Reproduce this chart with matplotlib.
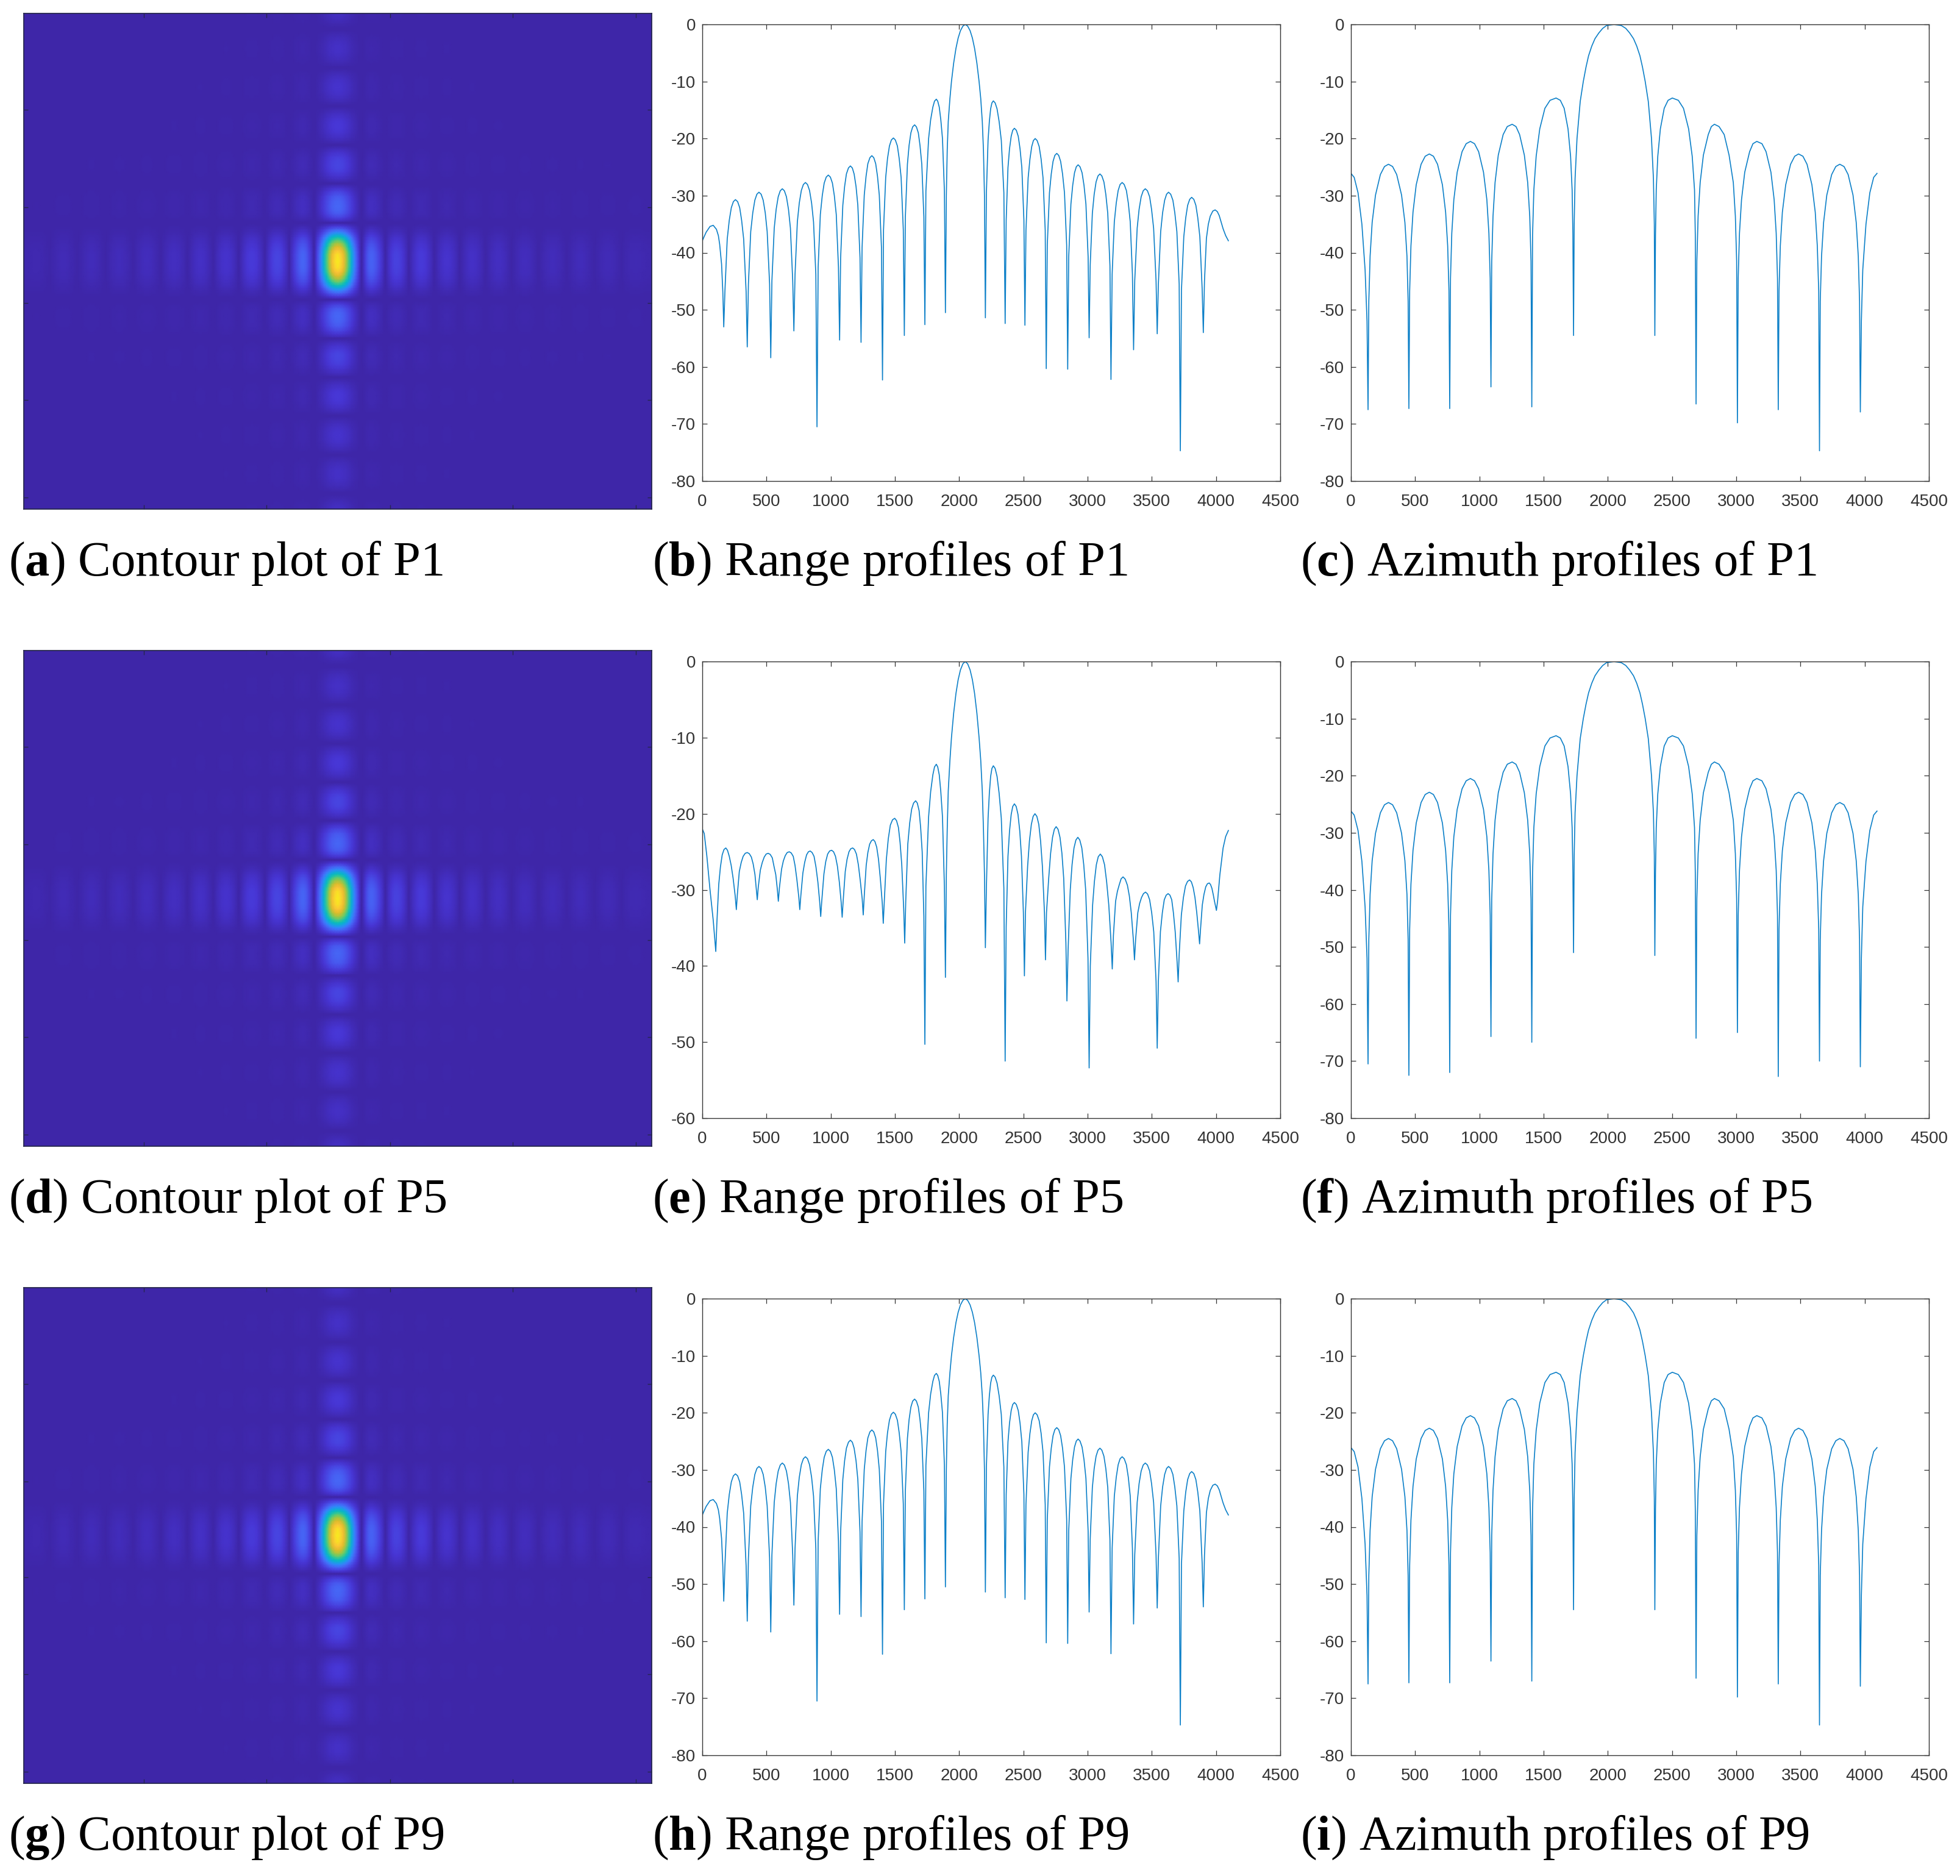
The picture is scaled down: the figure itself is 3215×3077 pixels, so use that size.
"""Point target responses for P1, P5 and P9: contour plot, range and azimuth profiles."""

from __future__ import annotations

import matplotlib.pyplot as plt
import numpy as np
from matplotlib.colors import LinearSegmentedColormap

FIG_W = 3215
FIG_H = 3077

# values, one line per lobe
range_p1_x = [
    0, 30, 60, 85, 110, 125, 135, 150, 160, 167,
    176, 194, 210, 226, 242, 258, 275, 291, 306, 322, 341, 350,
    359, 377, 393, 409, 425, 441, 458, 474, 490, 505, 524, 533,
    542, 560, 575, 591, 607, 623, 639, 655, 671, 686, 704, 713,
    722, 740, 755, 771, 787, 803, 819, 835, 851, 866, 884, 893,
    902, 919, 934, 949, 965, 981, 997, 1013, 1028, 1043, 1060, 1069,
    1077, 1094, 1108, 1122, 1138, 1153, 1168, 1182, 1197, 1211, 1228, 1236,
    1244, 1261, 1275, 1289, 1305, 1320, 1335, 1350, 1364, 1378, 1395, 1403,
    1411, 1428, 1442, 1457, 1472, 1488, 1503, 1519, 1533, 1548, 1565, 1573,
    1581, 1597, 1610, 1624, 1638, 1653, 1667, 1682, 1695, 1709, 1725, 1733,
    1741, 1762, 1778, 1795, 1808, 1822, 1833, 1845, 1857, 1870, 1885, 1893,
    1900, 1907, 1915, 1928, 1940, 1957, 1975, 1992, 2010, 2029, 2047,
    2066, 2085, 2103, 2120, 2138, 2155, 2168, 2180, 2189, 2197, 2204,
    2212, 2225, 2235, 2245, 2255, 2266, 2280, 2295, 2311, 2328, 2348, 2358,
    2366, 2380, 2392, 2405, 2417, 2430, 2445, 2460, 2474, 2488, 2504, 2512,
    2520, 2537, 2551, 2565, 2578, 2592, 2607, 2623, 2638, 2653, 2670, 2678,
    2686, 2703, 2717, 2731, 2745, 2760, 2775, 2790, 2805, 2820, 2837, 2845,
    2853, 2870, 2884, 2898, 2912, 2926, 2941, 2957, 2972, 2987, 3004, 3012,
    3020, 3037, 3051, 3066, 3081, 3096, 3111, 3127, 3142, 3157, 3174, 3182,
    3191, 3208, 3223, 3238, 3253, 3269, 3285, 3302, 3317, 3332, 3349, 3358,
    3367, 3386, 3401, 3417, 3433, 3449, 3466, 3483, 3498, 3514, 3533, 3542,
    3551, 3569, 3584, 3600, 3615, 3630, 3647, 3664, 3679, 3695, 3713, 3722,
    3731, 3749, 3764, 3779, 3795, 3810, 3827, 3843, 3858, 3874, 3892, 3901,
    3910, 3925, 3940, 3955, 3975, 3993, 4010, 4025, 4055, 4075, 4096,
]
range_p1_db = [
    -37.9, -36.4, -35.4, -35.2, -35.9, -37, -38.5, -42, -47, -53,
    -46.8, -37.6, -34.3, -32.1, -31.05, -30.7, -31.05, -32.1, -34.3, -37.6, -46.8, -56.5,
    -45.5, -36.3, -33, -30.8, -29.75, -29.4, -29.75, -30.8, -33, -36.3, -45.5, -58.4,
    -44.9, -35.7, -32.4, -30.2, -29.15, -28.8, -29.15, -30.2, -32.4, -35.7, -44.9, -53.7,
    -43.8, -34.6, -31.3, -29.1, -28.05, -27.7, -28.05, -29.1, -31.3, -34.6, -43.8, -70.5,
    -42.5, -33.3, -30, -27.8, -26.75, -26.4, -26.75, -27.8, -30, -33.3, -42.5, -55.3,
    -40.9, -31.7, -28.4, -26.2, -25.15, -24.8, -25.15, -26.2, -28.4, -31.7, -40.9, -55.7,
    -39.1, -29.9, -26.6, -24.4, -23.35, -23, -23.35, -24.4, -26.6, -29.9, -39.1, -62.3,
    -36, -26.8, -23.5, -21.3, -20.25, -19.9, -20.25, -21.3, -23.5, -26.8, -36, -54.5,
    -33.7, -24.5, -21.2, -19, -17.95, -17.6, -17.95, -19, -21.2, -24.5, -33.7, -52.6,
    -29.2, -20, -16.7, -14.5, -13.45, -13.1, -13.45, -14.5, -16.7, -20, -29.2, -50.5,
    -30, -22, -17, -13, -10, -6.8, -4.2, -2.4, -1.1, -0.3, 0,
    -0.3, -1.1, -2.4, -4.2, -6.8, -10, -13, -17, -22, -30, -51.4,
    -29.5, -20.3, -17, -14.8, -13.75, -13.4, -13.75, -14.8, -17, -20.3, -29.5, -52.4,
    -34.3, -25.1, -21.8, -19.6, -18.55, -18.2, -18.55, -19.6, -21.8, -25.1, -34.3, -52.7,
    -36.1, -26.9, -23.6, -21.4, -20.35, -20, -20.35, -21.4, -23.6, -26.9, -36.1, -60.3,
    -38.7, -29.5, -26.2, -24, -22.95, -22.6, -22.95, -24, -26.2, -29.5, -38.7, -60.4,
    -40.7, -31.5, -28.2, -26, -24.95, -24.6, -24.95, -26, -28.2, -31.5, -40.7, -54.9,
    -42.3, -33.1, -29.8, -27.6, -26.55, -26.2, -26.55, -27.6, -29.8, -33.1, -42.3, -62.2,
    -43.8, -34.6, -31.3, -29.1, -28.05, -27.7, -28.05, -29.1, -31.3, -34.6, -43.8, -57,
    -44.9, -35.7, -32.4, -30.2, -29.15, -28.8, -29.15, -30.2, -32.4, -35.7, -44.9, -54.2,
    -45.5, -36.3, -33, -30.8, -29.75, -29.4, -29.75, -30.8, -33, -36.3, -45.5, -74.7,
    -46.4, -37.2, -33.9, -31.7, -30.65, -30.3, -30.65, -31.7, -33.9, -37.2, -46.4, -54,
    -45, -37.5, -35, -33.6, -32.7, -32.5, -32.8, -33.5, -35.8, -37, -37.9,
]

range_p5_x = [
    0, 15, 35, 60, 85, 97, 105,
    113, 128, 141, 155, 169, 183, 196, 210, 225, 240, 256, 265,
    273, 288, 303, 318, 334, 350, 366, 382, 396, 410, 420, 428,
    436, 452, 467, 482, 497, 513, 529, 545, 558, 572, 584, 592,
    600, 617, 631, 646, 661, 677, 692, 708, 722, 736, 751, 759,
    767, 783, 797, 812, 826, 840, 855, 870, 885, 900, 914, 922,
    930, 947, 961, 976, 991, 1007, 1022, 1037, 1052, 1067, 1081, 1089,
    1097, 1113, 1127, 1142, 1156, 1171, 1185, 1200, 1215, 1230, 1245, 1253,
    1261, 1276, 1289, 1303, 1317, 1331, 1344, 1358, 1372, 1386, 1401, 1409,
    1417, 1433, 1448, 1464, 1481, 1498, 1512, 1527, 1540, 1553, 1568, 1576,
    1584, 1600, 1615, 1630, 1645, 1661, 1674, 1688, 1700, 1712, 1725, 1733,
    1741, 1762, 1778, 1795, 1808, 1822, 1833, 1845, 1857, 1870, 1885, 1893,
    1900, 1907, 1915, 1928, 1940, 1957, 1975, 1992, 2010, 2029, 2047,
    2066, 2085, 2103, 2120, 2138, 2155, 2168, 2180, 2189, 2197, 2204,
    2212, 2225, 2235, 2245, 2255, 2266, 2280, 2295, 2311, 2328, 2348, 2358,
    2366, 2380, 2392, 2405, 2417, 2430, 2444, 2458, 2472, 2485, 2500, 2508,
    2516, 2533, 2547, 2562, 2576, 2590, 2605, 2620, 2634, 2648, 2664, 2672,
    2680, 2697, 2712, 2727, 2741, 2755, 2770, 2785, 2800, 2814, 2831, 2839,
    2848, 2865, 2879, 2894, 2909, 2924, 2939, 2955, 2970, 2985, 3003, 3012,
    3021, 3039, 3053, 3068, 3083, 3099, 3115, 3132, 3148, 3165, 3183, 3192,
    3201, 3218, 3232, 3247, 3261, 3276, 3293, 3310, 3325, 3340, 3356, 3365,
    3374, 3391, 3405, 3420, 3435, 3451, 3467, 3483, 3499, 3515, 3533, 3542,
    3551, 3567, 3582, 3597, 3612, 3627, 3641, 3655, 3668, 3682, 3697, 3705,
    3713, 3730, 3746, 3762, 3778, 3794, 3808, 3822, 3836, 3850, 3864, 3872,
    3880, 3893, 3906, 3920, 3933, 3947, 3957, 3968, 3978, 3988, 3997, 4003,
    4012, 4030, 4055, 4075, 4096,
]
range_p5_db = [
    -22, -22.6, -25.5, -30, -34, -36.5, -38.1,
    -34.5, -29.3, -27, -25.4, -24.7, -24.5, -24.8, -25.6, -26.8, -28.5, -30.8, -32.6,
    -30.6, -27.6, -26.4, -25.6, -25.2, -25.1, -25.25, -25.7, -26.6, -28, -29.8, -31.3,
    -29.6, -27.4, -26.4, -25.7, -25.3, -25.2, -25.35, -25.8, -26.9, -28, -29.9, -31.5,
    -29.8, -27.3, -26.2, -25.5, -25.1, -25, -25.15, -25.6, -26.8, -28.6, -30.9, -32.6,
    -30.8, -27.8, -26.4, -25.4, -25, -24.9, -25.1, -25.6, -27, -29, -31.6, -33.5,
    -31.5, -27.9, -26.3, -25.3, -24.9, -24.8, -25, -25.6, -26.9, -29, -31.6, -33.6,
    -31.4, -27.6, -26, -25, -24.6, -24.5, -24.7, -25.3, -26.7, -28.8, -31.2, -33.3,
    -30.8, -26.8, -25.1, -24, -23.55, -23.4, -23.65, -24.4, -26, -28.5, -31.7, -34.4,
    -31.5, -26, -23.3, -21.5, -20.8, -20.6, -20.9, -21.8, -23.8, -26.7, -32.5, -37,
    -31.5, -24, -21.2, -19.4, -18.6, -18.3, -18.6, -19.6, -21.8, -25, -33.5, -50.3,
    -29.5, -20.4, -17.1, -14.9, -13.85, -13.5, -13.85, -14.9, -17.1, -20.4, -29.6, -41.5,
    -28, -22, -17, -13, -10, -6.8, -4.2, -2.4, -1.1, -0.3, 0,
    -0.3, -1.1, -2.4, -4.2, -6.8, -10, -13, -17, -22, -28, -37.6,
    -29.7, -20.6, -17.3, -15.1, -14.05, -13.7, -14.05, -15.1, -17.3, -20.6, -29.8, -52.5,
    -34.8, -25.6, -22.3, -20.1, -19.05, -18.7, -19.05, -20.1, -22.3, -25.6, -33, -41.3,
    -33, -26.9, -23.6, -21.4, -20.35, -20, -20.35, -21.4, -23.6, -26.9, -33, -39.2,
    -33, -28.5, -25.2, -23.1, -22.05, -21.7, -22.05, -23.1, -25.2, -28.5, -37, -44.6,
    -38, -30, -26.7, -24.5, -23.45, -23.1, -23.45, -24.5, -26.7, -30, -39, -53.4,
    -40, -32, -28.9, -26.7, -25.65, -25.3, -25.65, -26.7, -28.9, -32, -37, -40.4,
    -36, -31.5, -30.2, -29.3, -28.55, -28.3, -28.6, -29.4, -30.8, -33, -36.5, -39.2,
    -36.5, -33, -31.8, -31, -30.5, -30.3, -30.55, -31.3, -33, -35.5, -42, -50.8,
    -42, -35.5, -33, -31.3, -30.7, -30.5, -30.7, -31.3, -33, -35.5, -39.5, -42.1,
    -38.5, -33.3, -31, -29.5, -28.9, -28.7, -28.95, -29.7, -31, -33, -35.5, -37.1,
    -35, -32, -30.6, -29.6, -29.2, -29.1, -29.3, -29.8, -30.6, -31.5, -32.2, -32.7,
    -31.5, -28, -24.5, -23, -22.2,
]

azimuth_x = [
    0, 25, 55, 85, 110, 125, 133,
    139, 149, 165, 191, 229, 261, 292, 324, 356, 394, 420, 436, 445, 451,
    457, 467, 483, 508, 546, 578, 610, 642, 674, 712, 737, 753, 763, 769,
    775, 785, 801, 827, 865, 897, 930, 962, 994, 1032, 1058, 1074, 1084, 1090,
    1096, 1106, 1122, 1147, 1185, 1217, 1255, 1285, 1313, 1350, 1376, 1392, 1402, 1408,
    1414, 1424, 1442, 1470, 1510, 1550, 1597, 1630, 1660, 1690, 1710, 1722, 1728, 1733,
    1738, 1745, 1760, 1785, 1809, 1830, 1850, 1875, 1900, 1930, 1960, 1990, 2048,
    2105, 2140, 2170, 2200, 2225, 2250, 2270, 2291, 2315, 2340, 2355, 2362, 2366,
    2371, 2377, 2389, 2409, 2439, 2469, 2502, 2549, 2589, 2629, 2657, 2675, 2681, 2687,
    2693, 2703, 2719, 2744, 2782, 2806, 2830, 2866, 2906, 2944, 2977, 2993, 3003, 3009,
    3015, 3025, 3041, 3066, 3104, 3130, 3160, 3200, 3232, 3270, 3295, 3311, 3321, 3327,
    3333, 3343, 3359, 3385, 3423, 3455, 3485, 3519, 3551, 3589, 3615, 3631, 3642, 3648,
    3654, 3664, 3680, 3705, 3743, 3775, 3806, 3839, 3871, 3909, 3934, 3950, 3960, 3966,
    3974, 3985, 4010, 4040, 4070, 4096,
]
azimuth_p1_db = [
    -26.1, -26.8, -29.5, -35, -43, -52, -67.5,
    -48.5, -40.6, -34.7, -29.9, -26.3, -24.9, -24.5, -24.9, -26.3, -29.9, -34.7, -40.6, -48.5, -67.3,
    -46.7, -38.8, -32.9, -28.1, -24.5, -23.1, -22.7, -23.1, -24.5, -28.1, -32.9, -38.8, -46.7, -67.3,
    -44.5, -36.6, -30.7, -25.9, -22.3, -20.9, -20.5, -20.9, -22.3, -25.9, -30.7, -36.6, -44.5, -63.5,
    -41.5, -33.6, -27.7, -22.9, -19.3, -17.9, -17.5, -17.9, -19.3, -22.9, -27.7, -33.6, -41.5, -67,
    -36.9, -29, -23.1, -18.3, -14.7, -13.3, -12.9, -13.3, -14.7, -18.3, -23.1, -29, -36.9, -54.5,
    -35, -27, -20, -13.5, -10, -7.5, -5.5, -3.8, -2.5, -1.5, -0.7, -0.2, 0,
    -0.2, -0.7, -1.5, -2.5, -3.8, -5.5, -7.5, -10, -13.5, -20, -27, -35, -54.5,
    -36.9, -29, -23.1, -18.3, -14.7, -13.3, -12.9, -13.3, -14.7, -18.3, -23.1, -29, -36.9, -66.5,
    -41.5, -33.6, -27.7, -22.9, -19.3, -17.9, -17.5, -17.9, -19.3, -22.9, -27.7, -33.6, -41.5, -69.8,
    -44.5, -36.6, -30.7, -25.9, -22.3, -20.9, -20.5, -20.9, -22.3, -25.9, -30.7, -36.6, -44.5, -67.5,
    -46.7, -38.8, -32.9, -28.1, -24.5, -23.1, -22.7, -23.1, -24.5, -28.1, -32.9, -38.8, -46.7, -74.7,
    -48.5, -40.6, -34.7, -29.9, -26.3, -24.9, -24.5, -24.9, -26.3, -29.9, -34.7, -40.6, -48.5, -67.9,
    -52, -43, -35, -29.5, -26.8, -26.1,
]
azimuth_p5_db = [
    -26.2, -26.9, -29.6, -35, -43, -52, -70.5,
    -48.7, -40.8, -34.9, -30.1, -26.5, -25.1, -24.7, -25.1, -26.5, -30.1, -34.9, -40.8, -48.7, -72.5,
    -46.9, -39, -33.1, -28.3, -24.7, -23.3, -22.9, -23.3, -24.7, -28.3, -33.1, -39, -46.9, -72,
    -44.5, -36.6, -30.7, -25.9, -22.3, -20.9, -20.5, -20.9, -22.3, -25.9, -30.7, -36.6, -44.5, -65.7,
    -41.6, -33.7, -27.8, -23, -19.4, -18, -17.6, -18, -19.4, -23, -27.8, -33.7, -41.6, -66.7,
    -37, -29.1, -23.2, -18.4, -14.8, -13.4, -13, -13.4, -14.8, -18.4, -23.2, -29.1, -37, -51,
    -34, -26.5, -20, -13.5, -10, -7.5, -5.5, -3.8, -2.5, -1.5, -0.7, -0.2, 0,
    -0.2, -0.7, -1.5, -2.5, -3.8, -5.5, -7.5, -10, -13.5, -20, -26.5, -34, -51.5,
    -37, -29.1, -23.2, -18.4, -14.8, -13.4, -13, -13.4, -14.8, -18.4, -23.2, -29.1, -37, -66,
    -41.6, -33.7, -27.8, -23, -19.4, -18, -17.6, -18, -19.4, -23, -27.8, -33.7, -41.6, -65,
    -44.5, -36.6, -30.7, -25.9, -22.3, -20.9, -20.5, -20.9, -22.3, -25.9, -30.7, -36.6, -44.5, -72.7,
    -46.9, -39, -33.1, -28.3, -24.7, -23.3, -22.9, -23.3, -24.7, -28.3, -33.1, -39, -46.9, -70,
    -48.7, -40.8, -34.9, -30.1, -26.5, -25.1, -24.7, -25.1, -26.5, -30.1, -34.9, -40.8, -48.7, -71,
    -52, -43, -35, -29.6, -26.9, -26.2,
]

points = ["P1", "P5", "P9"]
row_letters = [("a", "b", "c"), ("d", "e", "f"), ("g", "h", "i")]

contour_xticks = [783, 1583, 2390, 3190, 3992]
contour_yticks = [795, 1600, 2392, 3195, 4000]
profile_xticks = [0, 500, 1000, 1500, 2000, 2500, 3000, 3500, 4000, 4500]

parula_colors = [
    "#3e26a8", "#4735d4", "#4752ec", "#4670fa", "#2b8ffb", "#13a8dc",
    "#01bac3", "#2cc79a", "#69cc6b", "#a5c540", "#e0bb29", "#fdc13a", "#f8eb1f",
]


def add_axes_px(fig, left, top, right, bottom):
    """Add axes from pixel edges measured from the top left of the figure."""
    return fig.add_axes([
        left / FIG_W,
        1 - bottom / FIG_H,
        (right - left) / FIG_W,
        (bottom - top) / FIG_H,
    ])


def draw_contour(ax, cmap, range_x, range_db, az_x, az_db):
    amp = np.outer(10 ** (np.array(az_db) / 20), 10 ** (np.array(range_db) / 20))
    ax.pcolormesh(range_x, az_x, amp, cmap=cmap, vmin=0, vmax=1, shading="gouraud")
    ax.set_xlim(0, 4096)
    ax.set_ylim(4096, 0)
    ax.set_xticks(contour_xticks)
    ax.set_yticks(contour_yticks)
    ax.tick_params(
        direction="in", top=True, right=True, length=5,
        width=1.0, color="#26264f", labelbottom=False, labelleft=False,
    )
    for spine in ax.spines.values():
        spine.set_color("#26264f")
        spine.set_linewidth(1.3)


def draw_profile(ax, x, db, y_min):
    ax.plot(x, db, color="#0d80c8", linewidth=1.2, solid_joinstyle="round")
    ax.set_xlim(0, 4500)
    ax.set_ylim(y_min, 0)
    ax.set_xticks(profile_xticks)
    ax.set_yticks(np.arange(y_min, 1, 10))
    ax.tick_params(
        direction="in", top=True, right=True, length=5.5, width=0.9,
        color="#333333", labelcolor="#333333", labelsize=20,
    )
    ax.tick_params(axis="x", pad=15)
    ax.tick_params(axis="y", pad=8)
    for spine in ax.spines.values():
        spine.set_color("#333333")
        spine.set_linewidth(1.0)


def main():
    plt.rcParams["font.family"] = ["Liberation Sans", "DejaVu Sans"]
    plt.rcParams["axes.unicode_minus"] = False
    plt.rcParams["mathtext.fontset"] = "custom"
    plt.rcParams["mathtext.rm"] = "Liberation Serif"
    plt.rcParams["mathtext.bf"] = "Liberation Serif:bold"

    cmap = LinearSegmentedColormap.from_list("parula_like", parula_colors)
    fig = plt.figure(figsize=(FIG_W / 100, FIG_H / 100), dpi=100, facecolor="white")

    profiles = {
        "P1": (range_p1_x, range_p1_db, azimuth_p1_db, -80),
        "P5": (range_p5_x, range_p5_db, azimuth_p5_db, -60),
        # P9 reads the same as P1 in the picture
        "P9": (range_p1_x, range_p1_db, azimuth_p1_db, -80),
    }

    for row, point in enumerate(points):
        dy = row * 1045
        range_x, range_db, az_db, range_min = profiles[point]

        # the three contour plots all show the P1 style range lobes
        ax = add_axes_px(fig, 39, 22 + dy, 1069, 835 + dy)
        draw_contour(ax, cmap, range_p1_x, range_p1_db, azimuth_x, az_db)

        ax = add_axes_px(fig, 1152, 40 + dy, 2100, 789 + dy)
        draw_profile(ax, range_x, range_db, range_min)

        ax = add_axes_px(fig, 2216, 40 + dy, 3164, 789 + dy)
        draw_profile(ax, azimuth_x, az_db, -80)

        captions = [
            (14, "Contour plot of"),
            (1070, "Range profiles of"),
            (2133, "Azimuth profiles of"),
        ]
        for (x_px, label), letter in zip(captions, row_letters[row]):
            fig.text(
                x_px / FIG_W,
                1 - (944 + dy) / FIG_H,
                "($\\mathbf{" + letter + "}$) " + label + " " + point,
                family="Liberation Serif",
                fontsize=58,
                color="black",
                va="baseline",
            )

    fig.savefig("out.png", dpi=100)
    plt.close(fig)


if __name__ == "__main__":
    main()
